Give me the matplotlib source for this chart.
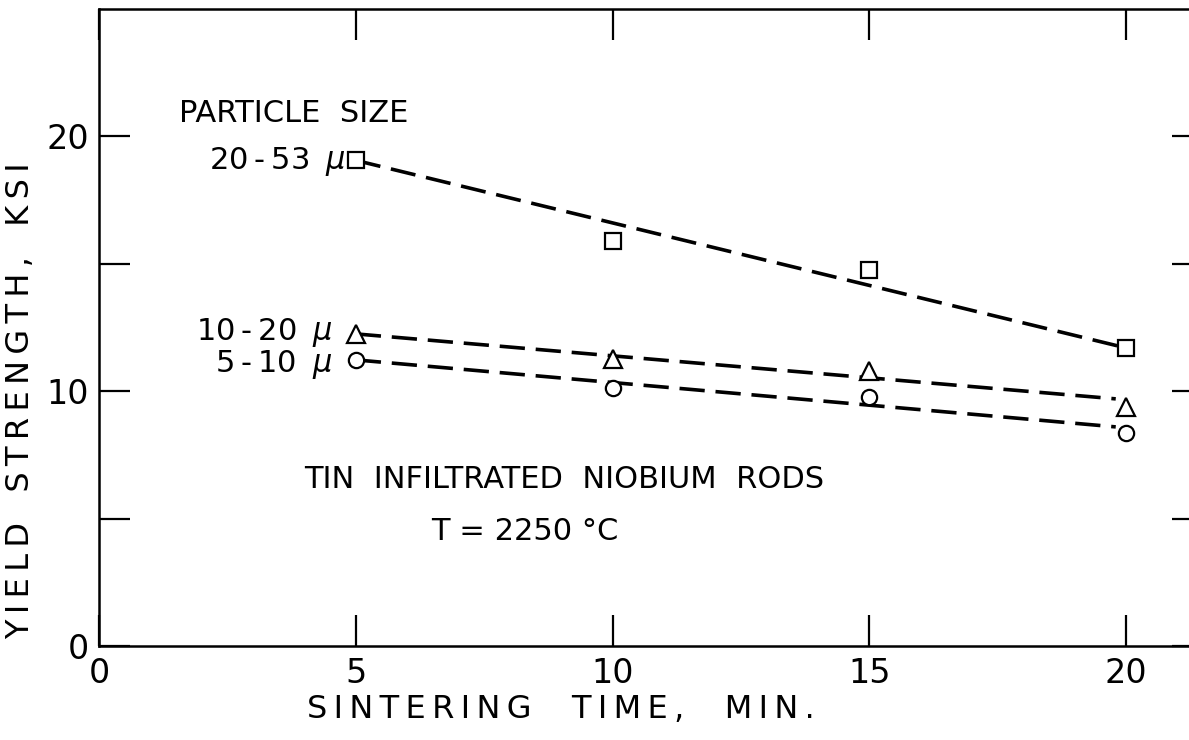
import matplotlib
matplotlib.use("Agg")
import matplotlib.pyplot as plt

# Sintering time (min) and yield strength (ksi) per particle-size group
time_min = [5, 10, 15, 20]
ys_20_53 = [19.06, 15.89, 14.76, 11.70]
ys_10_20 = [12.25, 11.27, 10.80, 9.39]
ys_5_10 = [11.23, 10.14, 9.78, 8.38]

# Trend lines (start / end points) drawn through each group
trend_x_20_53 = [5.0, 20.0]
trend_y_20_53 = [19.06, 11.70]
trend_x_10_20 = [5.0, 19.8]
trend_y_10_20 = [12.25, 9.70]
trend_x_5_10 = [5.0, 19.8]
trend_y_5_10 = [11.23, 8.60]

x_ticks = [0, 5, 10, 15, 20]
x_ticklabels = ["0", "5", "10", "15", "20"]
y_major = [0, 10, 20]
y_major_labels = ["0", "10", "20"]
y_minor = [5, 15]

plt.rcParams["font.family"] = ["DejaVu Sans"]


def track(s):
    """Widen letter spacing with thin spaces, as on stencil lettering."""
    return "\u2009".join(s)


fig = plt.figure(figsize=(11.89, 7.40), dpi=100)
ax = fig.add_axes([0.0833, 0.127, 0.9285, 0.8608])
ax.set_xlim(0, 21.5)
ax.set_ylim(0, 25)

dash = (0, (7, 3))
for tx, ty in [(trend_x_20_53, trend_y_20_53),
               (trend_x_10_20, trend_y_10_20),
               (trend_x_5_10, trend_y_5_10)]:
    ax.plot(tx, ty, color="black", lw=2.6, linestyle=dash, zorder=2)

ax.plot(time_min, ys_20_53, linestyle="none", marker="s", ms=12,
        mfc="white", mec="black", mew=1.6, zorder=3)
ax.plot(time_min, ys_10_20, linestyle="none", marker="^", ms=13,
        mfc="white", mec="black", mew=1.6, zorder=3)
ax.plot(time_min, ys_5_10, linestyle="none", marker="o", ms=11,
        mfc="white", mec="black", mew=1.6, zorder=3)

for s in ax.spines.values():
    s.set_linewidth(1.8)

ax.set_xticks(x_ticks)
ax.set_xticklabels(x_ticklabels)
ax.set_yticks(y_major)
ax.set_yticklabels(y_major_labels)
ax.set_yticks(y_minor, minor=True)
ax.tick_params(axis="both", which="both", direction="in", length=22, width=1.6,
               top=True, right=True, labelsize=24)
ax.tick_params(axis="x", which="major", pad=8)
ax.tick_params(axis="y", which="major", pad=7)

gap = "    "
ax.set_xlabel(track("SINTERING") + gap + track("TIME,") + gap + track("MIN."),
              fontsize=23)
ax.xaxis.set_label_coords(0.418, -0.076)
ax.set_ylabel(track("YIELD") + "   " + track("STRENGTH,") + "   " + track("KSI"),
              fontsize=23)
ax.yaxis.set_label_coords(-0.057, 0.385)

ax.text(1.55, 20.9, "PARTICLE  SIZE", fontsize=22, va="center", ha="left")
ax.text(4.8, 19.0, "20\u2009-\u200953\u2009 $\\mu$", fontsize=22, va="center", ha="right")
ax.text(4.55, 12.3, "10\u2009-\u200920\u2009 $\\mu$", fontsize=22, va="center", ha="right")
ax.text(4.55, 11.05, "5\u2009-\u200910\u2009 $\\mu$", fontsize=22, va="center", ha="right")
ax.text(9.05, 6.55, "TIN  INFILTRATED  NIOBIUM  RODS", fontsize=22,
        va="center", ha="center")
ax.text(8.3, 4.5, "T = 2250 °C", fontsize=22, va="center", ha="center")

fig.savefig("out.png", dpi=100)
